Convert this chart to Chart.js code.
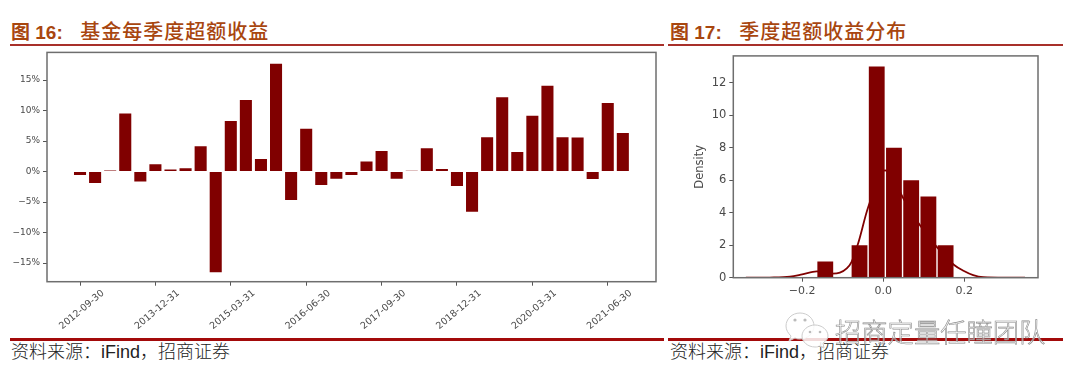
<!DOCTYPE html>
<html>
<head>
<meta charset="utf-8">
<title>fund excess return</title>
<script src="https://cdn.jsdelivr.net/npm/chart.js@4/dist/chart.umd.min.js"></script>
<style>
  html, body { margin: 0; padding: 0; background: #fff; }
  #page { position: relative; width: 1080px; height: 380px; overflow: hidden; background: #fff; filter: blur(0.45px); }
  #page > * { position: absolute; }
  .box { width: 664px; height: 294px; left: 0; top: 44px; }
  .box2 { width: 400px; height: 292px; left: 668px; top: 46px; }
  canvas { display: block; }
  .title { top: 20px; color: #a8460f; font: 500 20px "Liberation Sans", "Noto Sans CJK SC"; letter-spacing: 1px; white-space: pre; line-height: 24px; }
  .title b { font-weight: 700; letter-spacing: 0; font-size: 19px; margin-right: 11px; }
  .rule { height: 2px; top: 44px; background: #a8302a; }
  .rule2 { height: 3px; top: 338px; background: #a30a0a; }
  .src { top: 342px; color: #222; font: 300 18px/20px "Liberation Sans", "Noto Sans CJK SC"; white-space: pre; }
  .mark { left: 835px; top: 314px; font: 300 26.3px/34px "Noto Sans CJK SC"; color: rgba(255,255,255,.55); -webkit-text-stroke: .6px #8a8a8a; white-space: pre; }
</style>
</head>
<body>
<div id="page">
  <div class="title" style="left:11px"><b>图 16:</b> 基金每季度超额收益</div>
  <div class="title" style="left:670px"><b>图 17:</b> 季度超额收益分布</div>
  <div class="rule" style="left:10px;width:654px"></div>
  <div class="rule" style="left:668px;width:395px"></div>
  <div class="box"><canvas id="bars" width="664" height="294"></canvas></div>
  <div class="box2"><canvas id="hist" width="400" height="292"></canvas></div>
  <div class="rule2" style="left:10px;width:654px"></div>
  <div class="rule2" style="left:668px;width:395px"></div>
  <div class="src" style="left:11px">资料来源&#xFF1A;iFind&#xFF0C;招商证券</div>
  <div class="src" style="left:670px">资料来源&#xFF1A;iFind&#xFF0C;招商证券</div>
  <svg style="left:784px;top:311px" width="46" height="38" viewBox="0 0 46 38">
    <path d="M16 2c-8 0-14 6-14 13 0 4 2 7 5 10l-2 5 6-3c2 1 3 1 5 1 8 0 14-6 14-13S24 2 16 2z" fill="rgba(255,255,255,.85)" stroke="#ccc" stroke-width="1"/>
    <path d="M31 14c-7 0-13 5-13 11s6 11 13 11c2 0 3 0 4-1l5 2-1-5c3-2 5-4 5-7 0-6-6-11-13-11z" fill="rgba(255,255,255,.85)" stroke="#ccc" stroke-width="1"/>
    <circle cx="11" cy="9" r="1.6" fill="#bbb"/><circle cx="21" cy="9" r="1.6" fill="#bbb"/>
    <circle cx="26" cy="21" r="1.3" fill="#bbb"/><circle cx="36" cy="21" r="1.3" fill="#bbb"/>
  </svg>
  <div class="mark">招商定量任瞳团队</div>
</div>
<script>
const quarters = ['2012-09-30','2012-12-31','2013-03-31','2013-06-30','2013-09-30','2013-12-31','2014-03-31','2014-06-30','2014-09-30','2014-12-31',
  '2015-03-31','2015-06-30','2015-09-30','2015-12-31','2016-03-31','2016-06-30','2016-09-30','2016-12-31','2017-03-31','2017-06-30',
  '2017-09-30','2017-12-31','2018-03-31','2018-06-30','2018-09-30','2018-12-31','2019-03-31','2019-06-30','2019-09-30','2019-12-31',
  '2020-03-31','2020-06-30','2020-09-30','2020-12-31','2021-03-31','2021-06-30','2021-09-30'];
const excess = [-0.55,-1.85,0.2,9.55,-1.6,1.2,0.35,0.55,4.15,-16.5,
  8.3,11.75,2.05,17.7,-4.65,7.05,-2.2,-1.15,-0.55,1.65,
  3.4,-1.15,0.15,3.85,0.45,-2.35,-6.6,5.65,12.2,3.2,
  9.15,14.1,5.65,5.6,-1.2,11.25,6.35];
const dateTicks = ['2012-09-30','2013-12-31','2015-03-31','2016-06-30','2017-09-30','2018-12-31','2020-03-31','2021-06-30'];
const pctTicks = [-15,-10,-5,0,5,10,15];

const binCentres = [-0.143,-0.101,-0.0585,-0.016,0.0265,0.069,0.1115,0.154];
const density = [1,0,2,13,8,6,5,2];
const kdeX = [-0.339,-0.28,-0.23,-0.2,-0.164,-0.125,-0.107,-0.09,-0.078,-0.062,-0.037,0.004,0.02,0.047,0.089,0.132,0.175,0.198,0.222,0.247,0.3,0.35];
const kdeY = [0,0.01,0.06,0.2,0.39,0.25,0.31,0.57,0.98,2.1,4.35,6.6,6.4,5.0,3.29,1.9,0.78,0.43,0.16,0.03,0,0];
const densityTicks = [0,2,4,6,8,10,12];
const returnTicks = [-0.2,0,0.2];

const DARK = '#800000';

// matplotlib style frame, the axes borders only give two sides
const frame = {
  id: 'frame',
  afterDraw(chart) {
    const a = chart.chartArea, c = chart.ctx;
    c.save();
    c.strokeStyle = '#6e6e6e';
    c.lineWidth = 1.5;
    c.strokeRect(a.left, a.top, a.right - a.left, a.bottom - a.top);
    c.restore();
  }
};

function useTicks(list) {
  return scale => { scale.ticks = list.map(v => ({ value: v })); };
}

new Chart(document.getElementById('bars'), {
  type: 'bar',
  data: {
    datasets: [{
      data: quarters.map((q, i) => ({ x: i, y: excess[i] })),
      backgroundColor: DARK,
      barPercentage: 0.8,
      categoryPercentage: 1
    }]
  },
  options: {
    responsive: false,
    animation: false,
    layout: { padding: { top: 1, right: 8 } },
    plugins: { legend: { display: false }, tooltip: { enabled: false } },
    scales: {
      x: {
        type: 'linear',
        offset: false,
        min: -2.19,
        max: 38.2,
        border: { display: false },
        grid: { drawOnChartArea: false, offset: false, tickLength: 4, tickColor: '#555' },
        afterBuildTicks: useTicks(dateTicks.map(d => quarters.indexOf(d))),
        afterFit: s => { s.height = 56.3; },
        ticks: {
          autoSkip: false,
          minRotation: 40,
          maxRotation: 40,
          labelOffset: 23,
          padding: 2,
          color: '#4a4a4a',
          font: { family: 'DejaVu Sans', size: 9.5 },
          callback: v => quarters[v]
        }
      },
      y: {
        min: -18.05,
        max: 19.55,
        border: { display: false },
        grid: { drawOnChartArea: false, tickLength: 4, tickColor: '#555' },
        afterBuildTicks: useTicks(pctTicks),
        afterFit: s => { s.width = 47; },
        ticks: {
          padding: 3,
          color: '#4a4a4a',
          font: { family: 'DejaVu Sans', size: 9 },
          callback: v => String(v).replace('-', '\u2212') + '%'
        }
      }
    }
  },
  plugins: [frame]
});

new Chart(document.getElementById('hist'), {
  type: 'bar',
  data: {
    datasets: [{
      type: 'line',
      order: 0,
      data: kdeX.map((x, i) => ({ x: x, y: kdeY[i] })),
      borderColor: DARK,
      borderWidth: 1.8,
      pointRadius: 0,
      tension: 0.35,
      cubicInterpolationMode: 'monotone'
    }, {
      type: 'bar',
      order: 1,
      data: binCentres.map((x, i) => ({ x: x, y: density[i] })),
      backgroundColor: DARK,
      barPercentage: 0.93,
      categoryPercentage: 1
    }]
  },
  options: {
    responsive: false,
    animation: false,
    layout: { padding: { top: 5, right: 30, left: 25 } },
    plugins: { legend: { display: false }, tooltip: { enabled: false } },
    scales: {
      x: {
        type: 'linear',
        offset: false,
        min: -0.37,
        max: 0.382,
        border: { display: false },
        grid: { drawOnChartArea: false, offset: false, tickLength: 4, tickColor: '#555' },
        afterBuildTicks: useTicks(returnTicks),
        afterFit: s => { s.height = 60.3; },
        ticks: {
          autoSkip: false,
          maxRotation: 0,
          padding: 3,
          color: '#4a4a4a',
          font: { family: 'DejaVu Sans', size: 11 },
          callback: v => v.toFixed(1).replace('-', '\u2212')
        }
      },
      y: {
        min: 0,
        max: 13.65,
        border: { display: false },
        grid: { drawOnChartArea: false, tickLength: 4, tickColor: '#555' },
        afterBuildTicks: useTicks(densityTicks),
        afterFit: s => { s.width = 40.3; },
        title: {
          display: true,
          text: 'Density',
          color: '#4a4a4a',
          padding: 0,
          font: { family: 'DejaVu Sans', size: 11.5 }
        },
        ticks: {
          padding: 3,
          color: '#4a4a4a',
          font: { family: 'DejaVu Sans', size: 11.5 }
        }
      }
    }
  },
  plugins: [frame]
});
</script>
</body>
</html>
